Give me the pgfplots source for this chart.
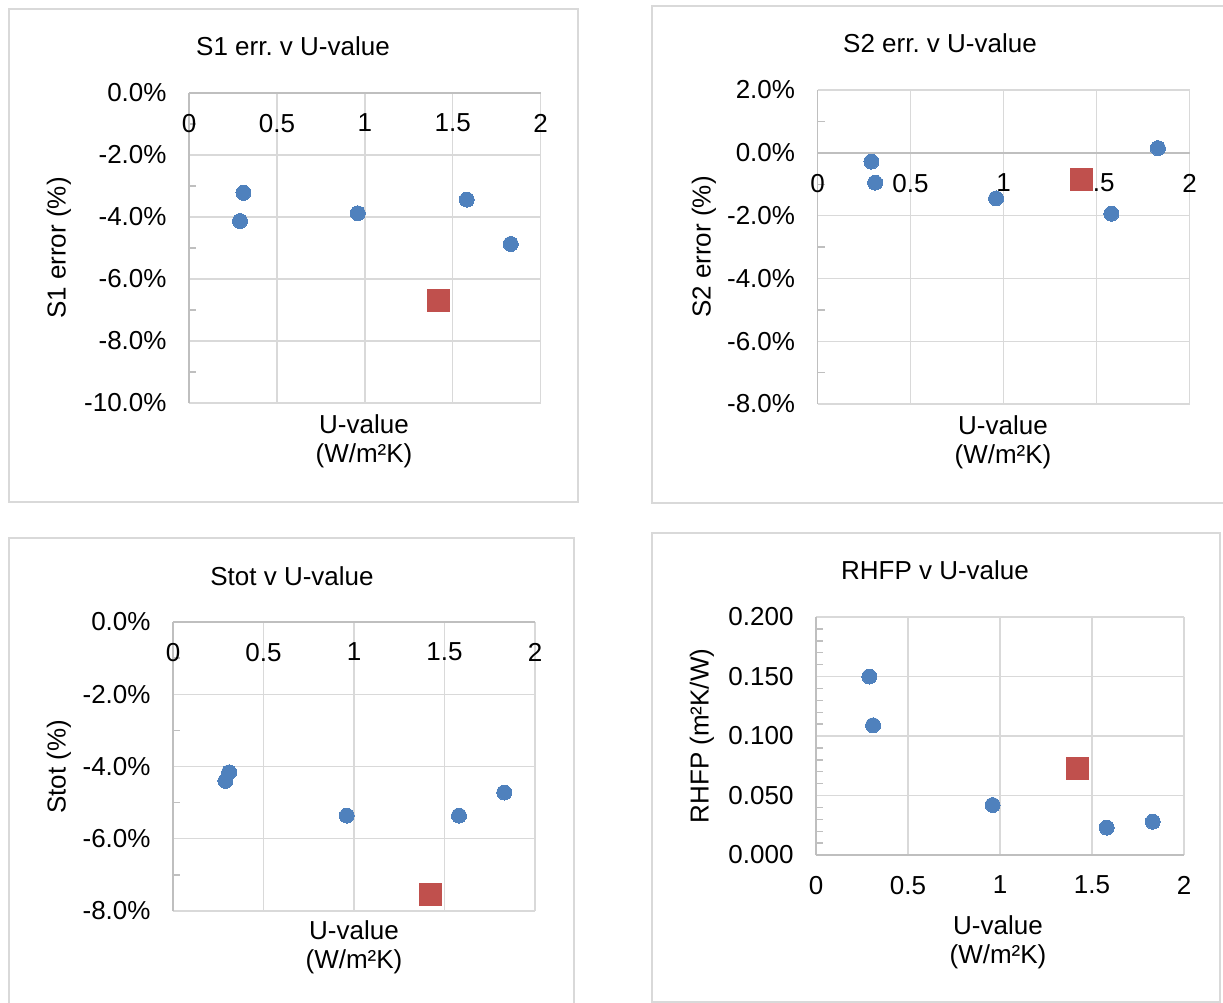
\documentclass[border=0pt]{standalone}
\usepackage{fontspec}
\setmainfont{Liberation Sans}
\usepackage{pgfplots}
\pgfplotsset{compat=1.18}
\frenchspacing

\definecolor{ptblue}{HTML}{4F81BD}
\definecolor{ptred}{HTML}{C0504D}
\definecolor{gridgray}{HTML}{D9D9D9}
\definecolor{axisgray}{HTML}{BFBFBF}
\definecolor{framegray}{HTML}{D9D9D9}

\newcommand{\lbl}{\fontsize{13}{15}\selectfont}

\pgfplotsset{
  panel/.style={
    scale only axis,
    anchor=south west,
    xmin=0, xmax=2,
    axis x line=middle, axis y line=left,
    axis line style={-, draw=axisgray, line width=0.7pt},
    grid=major, grid style={draw=gridgray, line width=0.7pt},
    xtick={0,0.5,1,1.5,2}, xticklabels={0,0.5,1,1.5,2},
    major tick length=0pt, minor tick length=3.5pt, tick align=inside,
    tick style={draw=axisgray, line width=0.7pt},
    minor y tick num=1,
    hide obscured x ticks=false, hide obscured y ticks=false,
    tick label style={font=\lbl, text=black},
    xticklabel style={yshift=-7pt},
    yticklabel style={xshift=-7.7pt},
  },
  blue pts/.style={only marks, color=ptblue, mark=*, mark size=3.75pt,
    mark options={draw=ptblue, fill=ptblue, line width=0pt}},
  red pts/.style={only marks, color=ptred, mark=square*, mark size=5.5pt,
    mark options={draw=ptred, fill=ptred, line width=0pt}},
}

\begin{document}
\begin{tikzpicture}
\useasboundingbox (0,0) rectangle (611.5pt,-501.5pt);
\clip (0,0) rectangle (611.5pt,-501.5pt);
\fill[white] (0,0) rectangle (611.5pt,-501.5pt);

% chart frames
\draw[framegray, line width=1pt] (4.5pt,-4.5pt) rectangle (289pt,-251pt);
\draw[framegray, line width=1pt] (326pt,-3pt) rectangle (618pt,-251.5pt);
\draw[framegray, line width=1pt] (4.5pt,-269pt) rectangle (287pt,-508pt);
\draw[framegray, line width=1pt] (326pt,-266.5pt) rectangle (610pt,-501pt);

% ---- S1 error ----
\begin{axis}[panel, at={(94.5pt,-201.5pt)}, width=175.8pt, height=155pt,
  ymin=-10, ymax=0, ytick={-10,-8,-6,-4,-2,0},
  yticklabels={-10.0\%,-8.0\%,-6.0\%,-4.0\%,-2.0\%,0.0\%}]
\addplot[blue pts] coordinates {(0.29,-4.13) (0.31,-3.22) (0.96,-3.88) (1.58,-3.44) (1.83,-4.87)};
\addplot[red pts] coordinates {(1.42,-6.70)};
\end{axis}
\node[font=\lbl] at (146.5pt,-23pt) {S1 err. v U-value};
\node[font=\lbl, rotate=90] at (29.5pt,-124pt) {S1 error (\%)};
\node[font=\lbl] at (182pt,-212pt) {U-value};
\node[font=\lbl] at (182pt,-228pt) {(W/m²K)};

% ---- S2 error ----
\begin{axis}[panel, at={(408.75pt,-202pt)}, width=186pt, height=157pt,
  ymin=-8, ymax=2, ytick={-8,-6,-4,-2,0,2},
  yticklabels={-8.0\%,-6.0\%,-4.0\%,-2.0\%,0.0\%,2.0\%}]
\addplot[blue pts] coordinates {(0.29,-0.28) (0.31,-0.95) (0.96,-1.45) (1.58,-1.94) (1.83,0.15)};
\addplot[red pts] coordinates {(1.42,-0.86)};
\end{axis}
\node[font=\lbl] at (470pt,-21.5pt) {S2 err. v U-value};
\node[font=\lbl, rotate=90] at (352pt,-123.5pt) {S2 error (\%)};
\node[font=\lbl] at (501.5pt,-212.5pt) {U-value};
\node[font=\lbl] at (501.5pt,-228.5pt) {(W/m²K)};

% ---- Stot ----
\begin{axis}[panel, at={(86.5pt,-455.5pt)}, width=181pt, height=144.5pt,
  ymin=-8, ymax=0, ytick={-8,-6,-4,-2,0},
  yticklabels={-8.0\%,-6.0\%,-4.0\%,-2.0\%,0.0\%}]
\addplot[blue pts] coordinates {(0.29,-4.40) (0.31,-4.16) (0.96,-5.36) (1.58,-5.36) (1.83,-4.72)};
\addplot[red pts] coordinates {(1.42,-7.54)};
\end{axis}
\node[font=\lbl] at (146pt,-288pt) {Stot v U-value};
\node[font=\lbl, rotate=90] at (29.5pt,-383.5pt) {Stot (\%)};
\node[font=\lbl] at (177pt,-465pt) {U-value};
\node[font=\lbl] at (177pt,-481pt) {(W/m²K)};

% ---- RHFP ----
\begin{axis}[panel, at={(408pt,-427.5pt)}, width=184pt, height=119pt,
  ymin=0, ymax=0.2, ytick={0,0.05,0.1,0.15,0.2},
  yticklabels={0.000,0.050,0.100,0.150,0.200},
  minor y tick num=4]
\addplot[blue pts] coordinates {(0.29,0.150) (0.31,0.109) (0.96,0.042) (1.58,0.023) (1.83,0.028)};
\addplot[red pts] coordinates {(1.42,0.073)};
\end{axis}
\node[font=\lbl] at (467.5pt,-285pt) {RHFP v U-value};
\node[font=\lbl, rotate=90] at (351pt,-368pt) {RHFP (m²K/W)};
\node[font=\lbl] at (499pt,-462.5pt) {U-value};
\node[font=\lbl] at (499pt,-478.5pt) {(W/m²K)};
\end{tikzpicture}
\end{document}
